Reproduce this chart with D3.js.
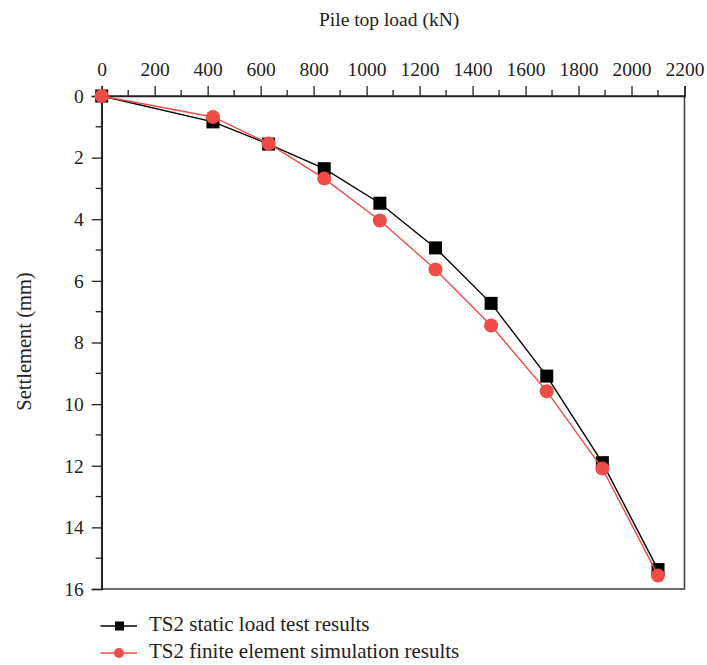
<!DOCTYPE html>
<html>
<head>
<meta charset="utf-8">
<script src="https://cdn.jsdelivr.net/npm/d3@7"></script>
<style>
  html, body { margin: 0; padding: 0; background: #fff; }
  svg { display: block; }
  svg text { font-family: "Liberation Serif", "DejaVu Serif", serif !important; }
</style>
</head>
<body>
<svg id="chart" width="707" height="665"></svg>
<script>
const loads = [0, 420, 630, 840, 1050, 1260, 1470, 1680, 1890, 2100];
const staticSettlement = [0, 0.84, 1.56, 2.36, 3.48, 4.93, 6.73, 9.09, 11.9, 15.37];
const simSettlement = [0, 0.68, 1.54, 2.68, 4.04, 5.63, 7.45, 9.58, 12.09, 15.56];
const xTicks = [0, 200, 400, 600, 800, 1000, 1200, 1400, 1600, 1800, 2000, 2200];
const yTicks = [0, 2, 4, 6, 8, 10, 12, 14, 16];
const seriesNames = ["TS2 static load test results", "TS2 finite element simulation results"];
const seriesColors = ["#000000", "#ee4c47"];

(function () {
const FS = 19.5;
const svg = d3.select("#chart");
const mL = 101.7, mR = 684.5, mT = 96, mB = 589;

const x = d3.scaleLinear().domain([0, 2200]).range([mL, mR]);
const y = d3.scaleLinear().domain([0, 16]).range([mT, mB]);

// box
svg.append("rect").attr("x", mL).attr("y", mT).attr("width", mR - mL).attr("height", mB - mT)
  .attr("fill", "none").attr("stroke", "#444").attr("stroke-width", 1.6);

// top axis
const xAxis = d3.axisTop(x).tickValues(xTicks).tickSize(10).tickPadding(10).tickFormat(d3.format("d"));
const gx = svg.append("g").attr("transform", `translate(0,${mT})`).call(xAxis);
gx.select(".domain").attr("stroke", "#222").attr("stroke-width", 1.6);
gx.selectAll(".tick line").attr("stroke", "#222").attr("stroke-width", 1.3);
gx.selectAll(".tick text").style("font-size", FS + "px").attr("fill", "#222");
const xMinor = d3.range(100, 2200, 200);
svg.append("g").selectAll("line").data(xMinor).join("line")
  .attr("x1", d => x(d)).attr("x2", d => x(d)).attr("y1", mT).attr("y2", mT - 6)
  .attr("stroke", "#222").attr("stroke-width", 1.3);

// left axis
const yAxis = d3.axisLeft(y).tickValues(yTicks).tickSize(10).tickPadding(8).tickFormat(d3.format("d"));
const gy = svg.append("g").attr("transform", `translate(${mL},0)`).call(yAxis);
gy.select(".domain").attr("stroke", "#222").attr("stroke-width", 1.6);
gy.selectAll(".tick line").attr("stroke", "#222").attr("stroke-width", 1.3);
gy.selectAll(".tick text").style("font-size", FS + "px").attr("fill", "#222");
const yMinor = d3.range(1, 16, 2);
svg.append("g").selectAll("line").data(yMinor).join("line")
  .attr("x1", mL).attr("x2", mL - 6).attr("y1", d => y(d)).attr("y2", d => y(d))
  .attr("stroke", "#222").attr("stroke-width", 1.3);

// titles
svg.append("text").attr("x", (mL + mR) / 2 - 4).attr("y", 26).attr("text-anchor", "middle")
  .style("font-size", FS + "px").attr("fill", "#222").text("Pile top load (kN)");
svg.append("text").attr("transform", `translate(31,${(mT + mB) / 2 - 1}) rotate(-90)`).attr("text-anchor", "middle")
  .style("font-size", "20.5px").attr("fill", "#222").text("Settlement (mm)");

const line = d3.line().x(d => x(d[0])).y(d => y(d[1]));
const staticData = loads.map((l, i) => [l, staticSettlement[i]]);
const simData = loads.map((l, i) => [l, simSettlement[i]]);

const plot = svg.append("g");
plot.append("path").datum(staticData).attr("d", line).attr("fill", "none").attr("stroke", seriesColors[0]).attr("stroke-width", 1.4);
plot.selectAll("rect.sq").data(staticData).join("rect").attr("class", "sq")
  .attr("x", d => x(d[0]) - 6.5).attr("y", d => y(d[1]) - 6.5).attr("width", 13).attr("height", 13)
  .attr("fill", seriesColors[0]);

plot.append("path").datum(simData).attr("d", line).attr("fill", "none").attr("stroke", seriesColors[1]).attr("stroke-width", 1.4);
plot.selectAll("circle.ci").data(simData).join("circle").attr("class", "ci")
  .attr("cx", d => x(d[0])).attr("cy", d => y(d[1])).attr("r", 7)
  .attr("fill", seriesColors[1]);

// legend
const legend = svg.append("g");
const legY = [626, 653];
seriesNames.forEach((name, i) => {
  const g = legend.append("g").attr("transform", `translate(0,${legY[i]})`);
  g.append("line").attr("x1", 100.5).attr("x2", 137).attr("y1", 0).attr("y2", 0)
    .attr("stroke", seriesColors[i]).attr("stroke-width", 1.4);
  if (i === 0) {
    g.append("rect").attr("x", 115).attr("y", -4.5).attr("width", 9).attr("height", 9).attr("fill", seriesColors[i]);
  } else {
    g.append("circle").attr("cx", 119).attr("cy", 0).attr("r", 5).attr("fill", seriesColors[i]);
  }
  g.append("text").attr("x", 149).attr("y", 5).style("font-size", "21px").attr("fill", "#222").text(name);
});
})();
</script>
</body>
</html>
